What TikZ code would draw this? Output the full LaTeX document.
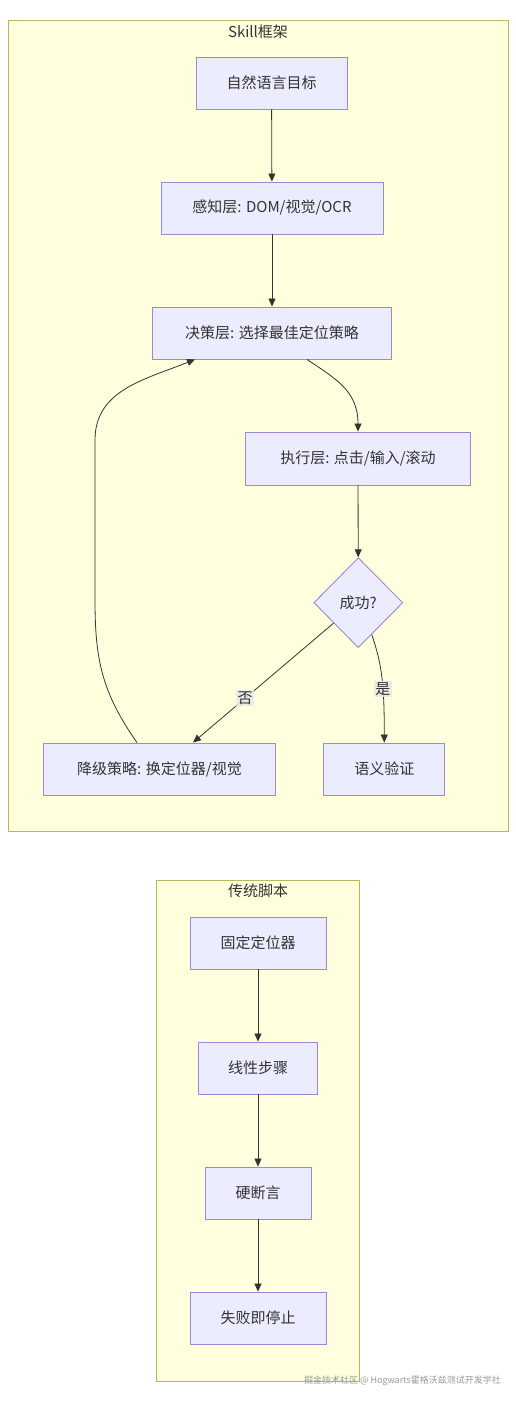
\documentclass[tikz,border=0pt]{standalone}
\usepackage{fontspec}
\setmainfont{Noto Sans CJK SC}
\usetikzlibrary{shapes.geometric,arrows.meta,calc}
\definecolor{clfill}{HTML}{FFFFDE}
\definecolor{cldraw}{HTML}{B5B860}
\definecolor{ndfill}{HTML}{ECECFF}
\definecolor{nddraw}{HTML}{9F86D6}
\definecolor{txt}{HTML}{333333}
\definecolor{lblbg}{HTML}{E8E8E8}
\tikzset{
  cluster/.style={draw=cldraw, fill=clfill, line width=0.9pt},
  box/.style={draw=nddraw, fill=ndfill, line width=0.9pt, inner sep=0pt, text=txt, font=\fontsize{15}{17}\selectfont, anchor=center},
  dia/.style={diamond, draw=nddraw, fill=ndfill, line width=0.9pt, inner sep=0pt, minimum width=89pt, minimum height=90pt, text=txt, font=\fontsize{15}{17}\selectfont},
  title/.style={text=txt, font=\fontsize{15}{17}\selectfont},
  edge/.style={draw=txt, line width=0.8pt, -{Triangle[length=8pt,width=7pt]}},
  lbl/.style={fill=lblbg, fill opacity=0.85, text opacity=1, text=txt, inner sep=1.5pt, font=\fontsize{15}{17}\selectfont}
}
\begin{document}
\begin{tikzpicture}[x=1pt,y=-1pt]
\useasboundingbox (0,0) rectangle (516,1402);
\fill[white] (0,0) rectangle (516,1402);
% clusters
\draw[cluster] (8,20) rectangle (508,831);
\node[title] (t1) at (258,32) {Skill框架};
\draw[cluster] (156,880) rectangle (359,1381);
\node[title] (t2) at (258,891) {传统脚本};
% Skill nodes
\node[box, minimum width=151pt, minimum height=52pt] (goal) at (271.5,83) {自然语言目标};
\node[box, minimum width=222pt, minimum height=52pt] (perc) at (272,208) {感知层: DOM/视觉/OCR};
\node[box, minimum width=239pt, minimum height=52pt] (dec) at (272,333) {决策层: 选择最佳定位策略};
\node[box, minimum width=225pt, minimum height=53pt] (exe) at (358,458.5) {执行层: 点击/输入/滚动};
\node[dia] (ok) at (358.3,602.7) {成功?};
\node[box, minimum width=232pt, minimum height=52pt] (fb) at (159.5,769) {降级策略: 换定位器/视觉};
\node[box, minimum width=121pt, minimum height=52pt] (sem) at (384.3,769) {语义验证};
% traditional nodes
\node[box, minimum width=136pt, minimum height=52pt] (fix) at (258,943) {固定定位器};
\node[box, minimum width=119pt, minimum height=52pt] (lin) at (258,1068) {线性步骤};
\node[box, minimum width=106pt, minimum height=52pt] (hard) at (258,1193) {硬断言};
\node[box, minimum width=136pt, minimum height=52pt] (stop) at (258,1318) {失败即停止};
% edges
\draw[edge] (goal) -- (perc);
\draw[edge] (perc) -- (dec);
\draw[edge] ([xshift=35pt]dec.south) .. controls +(30,20) and +(0,-40) .. (exe.north);
\draw[edge] (exe) -- (ok);
\draw[edge] ($(ok.south)!0.55!(ok.west)$) -- node[lbl, pos=0.63] (no) {否} ([xshift=33.5pt]fb.north);
\draw[edge] ($(ok.south)!0.3!(ok.east)$) .. controls +(10,30) and +(0,-60) .. node[lbl, pos=0.62] (yes) {是} (sem.north);
\draw[edge] ([xshift=-22.5pt]fb.north) .. controls +(-35,-50) and +(0,60) .. (95,600) -- (95,440) .. controls +(0,-50) and +(-50,20) .. ([xshift=-77pt]dec.south);
\draw[edge] (fix) -- (lin);
\draw[edge] (lin) -- (hard);
\draw[edge] (hard) -- (stop);
% watermark
\node[anchor=east, text=black!40, font=\fontsize{9}{11}\selectfont, inner sep=0pt] (wm) at (501,1381) {掘金技术社区 @ Hogwarts霍格沃兹测试开发学社};
\end{tikzpicture}
\end{document}
